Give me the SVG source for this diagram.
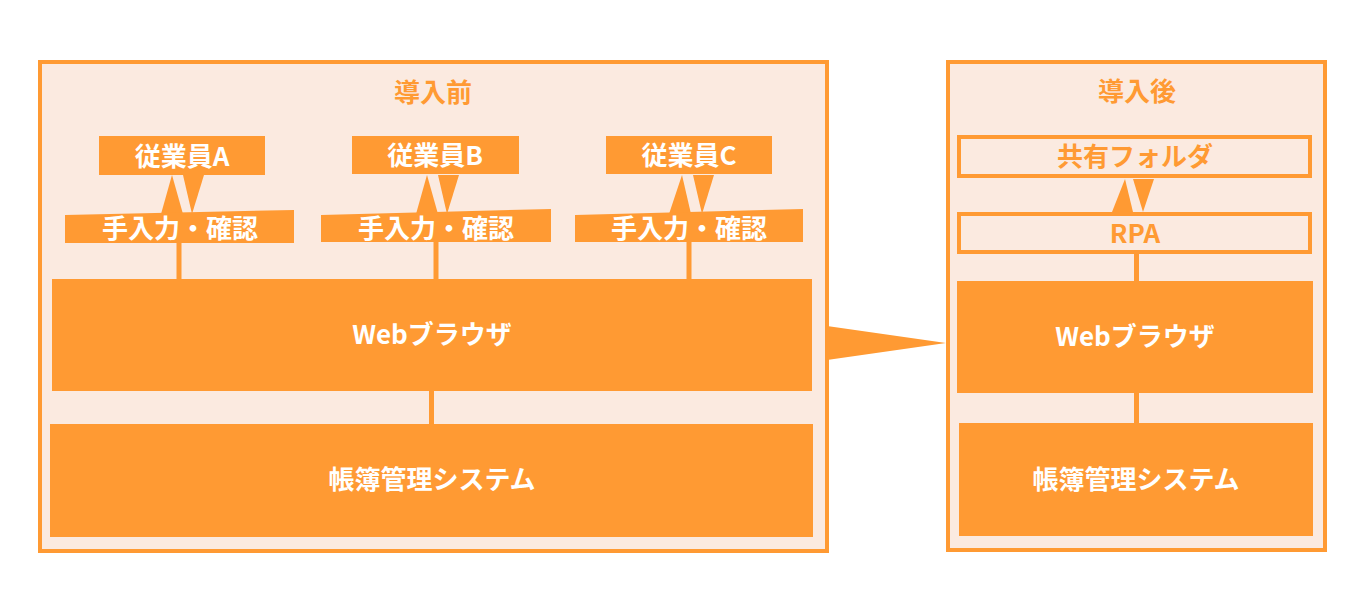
<svg xmlns="http://www.w3.org/2000/svg" width="1366" height="602" viewBox="0 0 1366 602">
<style>
.panel{fill:#FBEAE0;stroke:#FF9A33;stroke-width:4}
.solid{fill:#FF9A33}
.outline{fill:#FBEAE0;stroke:#FF9A33;stroke-width:4}
.line{stroke:#FF9A33;stroke-width:5;fill:none}
text{font-family:"Noto Sans CJK JP","Noto Sans",sans-serif;font-weight:bold;text-anchor:middle;dominant-baseline:central;font-size:26px}
.w{fill:#FFFFFF}
.o{fill:#FF9A33}
</style>
<rect width="1366" height="602" fill="#FFFFFF"/>
<g id="panel-before">
<rect class="panel" x="40" y="62" width="787" height="489"/>
<text class="o" x="433" y="90">導入前</text>
</g>
<g id="panel-after">
<rect class="panel" x="948" y="62" width="377" height="488"/>
<text class="o" x="1137" y="89">導入後</text>
</g>
<g id="connectors">
<line class="line" x1="179" y1="242" x2="179" y2="280"/>
<line class="line" x1="436" y1="242" x2="436" y2="280"/>
<line class="line" x1="689" y1="242" x2="689" y2="280"/>
<line class="line" x1="431.5" y1="390" x2="431.5" y2="425"/>
<line class="line" x1="1136.5" y1="252" x2="1136.5" y2="282"/>
<line class="line" x1="1136.5" y1="392" x2="1136.5" y2="424"/>
<polygon class="solid" points="172,175 161,214 183,214"/>
<polygon class="solid" points="183,175 204,175 192,214"/>
<polygon class="solid" points="427,175 416,214 438,214"/>
<polygon class="solid" points="438,175 459,175 447,214"/>
<polygon class="solid" points="682,175 669,214 691,214"/>
<polygon class="solid" points="693,175 714,175 702,214"/>
<polygon class="solid" points="1125,179 1112,212 1133,212"/>
<polygon class="solid" points="1133,179 1154,179 1143,212"/>
<polygon class="solid" points="827,326 946,343 827,360"/>
</g>
<g id="empA">
<rect class="solid" x="99" y="136" width="166" height="39"/>
<text class="w" x="182" y="154">従業員A</text>
</g>
<g id="empB">
<rect class="solid" x="352" y="136" width="167" height="38"/>
<text class="w" x="435" y="153">従業員B</text>
</g>
<g id="empC">
<rect class="solid" x="606" y="136" width="166" height="38"/>
<text class="w" x="689" y="153">従業員C</text>
</g>
<g id="inputA">
<polygon class="solid" points="65,215 294,210 294,243 65,243"/>
<text class="w" x="180" y="226">手入力・確認</text>
</g>
<g id="inputB">
<polygon class="solid" points="321,215 551,209 551,242 321,242"/>
<text class="w" x="436" y="226">手入力・確認</text>
</g>
<g id="inputC">
<polygon class="solid" points="575,215 803,209 803,242 575,242"/>
<text class="w" x="689" y="226">手入力・確認</text>
</g>
<g id="webL">
<rect class="solid" x="52" y="279" width="760" height="112"/>
<text class="w" x="432" y="332">Webブラウザ</text>
</g>
<g id="ledgerL">
<rect class="solid" x="50" y="424" width="763" height="113"/>
<text class="w" x="432" y="477">帳簿管理システム</text>
</g>
<g id="shared">
<rect class="outline" x="959" y="137" width="351" height="39"/>
<text class="o" x="1135" y="154">共有フォルダ</text>
</g>
<g id="rpa">
<rect class="outline" x="959" y="214" width="351" height="38"/>
<text class="o" x="1135" y="231">RPA</text>
</g>
<g id="webR">
<rect class="solid" x="957" y="281" width="356" height="112"/>
<text class="w" x="1135" y="334">Webブラウザ</text>
</g>
<g id="ledgerR">
<rect class="solid" x="959" y="423" width="354" height="113"/>
<text class="w" x="1136" y="477">帳簿管理システム</text>
</g>
</svg>
